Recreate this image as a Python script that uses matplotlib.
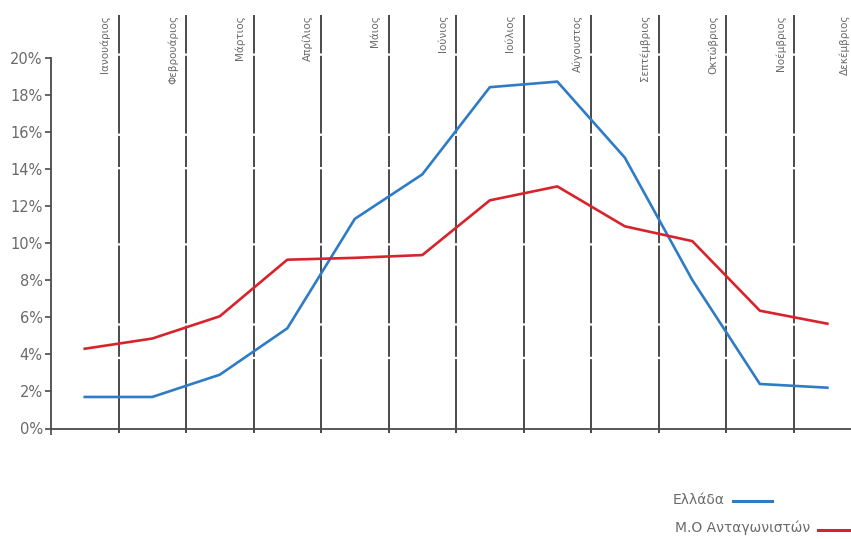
import numpy as np
import matplotlib
matplotlib.use("Agg")
import matplotlib.pyplot as plt
from matplotlib.lines import Line2D

plt.rcParams['font.family'] = ['Liberation Sans Narrow', 'DejaVu Sans']

months = ['Ιανουάριος', 'Φεβρουάριος', 'Μάρτιος', 'Απρίλιος', 'Μάιος', 'Ιούνιος',
          'Ιούλιος', 'Αύγουστος', 'Σεπτέμβριος', 'Οκτώβριος', 'Νοέμβριος', 'Δεκέμβριος']
greece = [1.7, 1.7, 2.9, 5.4, 11.3, 13.7, 18.4, 18.7, 14.6, 8.0, 2.4, 2.2]
competitors = [4.3, 4.85, 6.05, 9.1, 9.2, 9.35, 12.3, 13.05, 10.9, 10.1, 6.35, 5.65]
yticks = [0, 2, 4, 6, 8, 10, 12, 14, 16, 18, 20]
legend_labels = ['Ελλάδα', 'Μ.Ο Ανταγωνιστών']

blue = '#2e7bc6'
red = '#d8232c'
grey = '#4a4a4a'
txt = '#6a6a6a'

fig = plt.figure(figsize=(8.51, 5.39), dpi=100)
ax = fig.add_axes([51 / 851, 110.5 / 539, 800 / 851, 371 / 539])

x = np.arange(len(months))
ax.set_xlim(-0.5, 11.35)
ax.set_ylim(0, 20)

# κάθετες γραμμές ανάμεσα στους μήνες
for i in range(len(months) - 1):
    ax.plot([i + 0.5, i + 0.5], [-0.25, 22.3], color=grey, lw=1.4,
            dashes=(38, 1.2, 16, 1.2, 40, 1.2), clip_on=False, zorder=1)

# ονόματα μηνών, κάθετα (ο τελευταίος μένει μέσα στην εικόνα)
for i, m in enumerate(months):
    ax.text(min(i + 0.38, 11.33), 22.3, m, rotation=90, ha='right', va='top',
            fontsize=7.5, color=txt, clip_on=False)

ax.plot(x, greece, color=blue, lw=1.9, zorder=3)
ax.plot(x, competitors, color=red, lw=1.9, zorder=3)

ax.set_yticks(yticks)
ax.set_yticklabels([f'{v}%' for v in yticks])
ax.set_xticks([-0.5])
ax.set_xticklabels([])
ax.tick_params(axis='y', direction='out', length=4, width=1.2, color=grey,
               labelsize=10.5, labelcolor=txt, pad=2)
ax.tick_params(axis='x', direction='out', length=4, width=1.2, color=grey)

for s in ['top', 'right']:
    ax.spines[s].set_visible(False)
for s in ['left', 'bottom']:
    ax.spines[s].set_color(grey)
    ax.spines[s].set_linewidth(1.3)

# υπόμνημα
fig.text(725 / 851, 1 - 500 / 539, legend_labels[0], ha='right', va='center',
         fontsize=10, color=txt)
fig.add_artist(Line2D([733 / 851, 772 / 851], [1 - 501 / 539] * 2, color=blue, lw=2.2))
fig.text(810 / 851, 1 - 528 / 539, legend_labels[1], ha='right', va='center',
         fontsize=10, color=txt)
fig.add_artist(Line2D([818 / 851, 851 / 851], [1 - 530 / 539] * 2, color=red, lw=2.2))

fig.savefig('out.png', dpi=100)
